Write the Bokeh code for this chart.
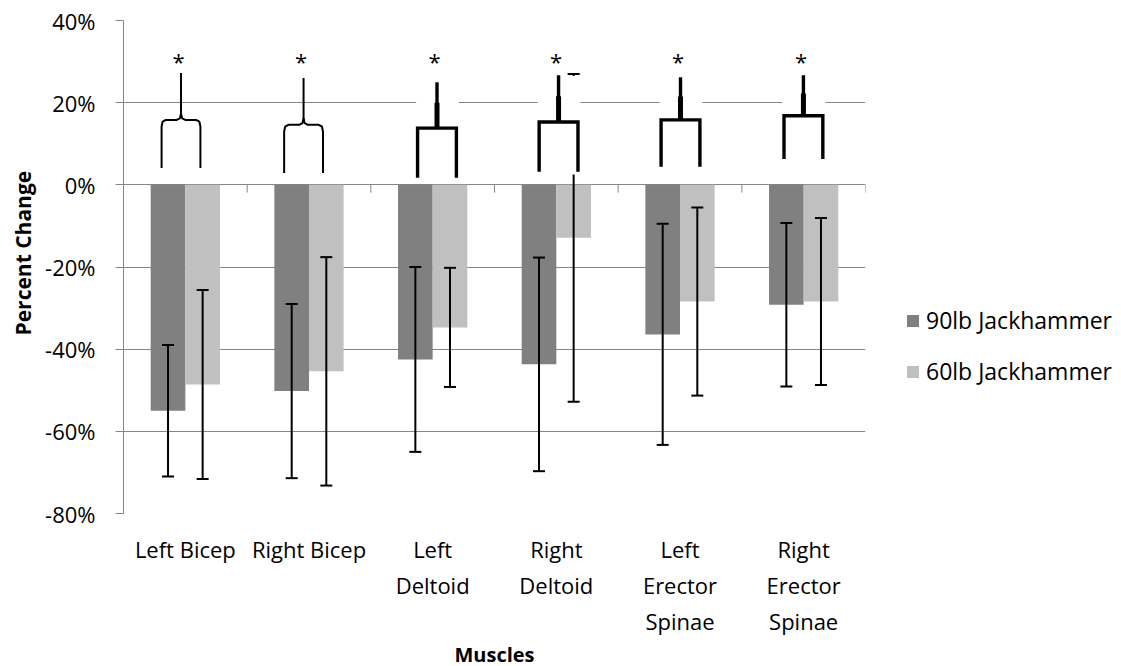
from bokeh.plotting import figure
from bokeh.models import (FactorRange, Range1d, ColumnDataSource, Legend, LegendItem,
                          FixedTicker, PrintfTickFormatter, Title)
from bokeh.transform import dodge
from bokeh.core.properties import value
from bokeh.embed import file_html
from bokeh.resources import INLINE

# ---------------- data ----------------
muscles = ["Left Bicep", "Right Bicep", "Left\nDeltoid", "Right\nDeltoid",
           "Left\nErector\nSpinae", "Right\nErector\nSpinae"]
change_90lb = [-55.0, -50.2, -42.5, -43.7, -36.4, -29.2]
change_60lb = [-48.6, -45.4, -34.7, -12.9, -28.4, -28.4]
sd_90lb = [16.0, 21.2, 22.5, 26.0, 26.9, 19.9]
sd_60lb = [23.0, 27.8, 14.5, 39.9, 22.9, 20.3]
significance = ["*", "*", "*", "*", "*", "*"]
bracket_low = [4.1, 2.9, 1.7, 3.2, 4.4, 6.3]
bracket_mid = [15.8, 14.6, 13.8, 15.3, 15.8, 16.8]
bracket_top = [27.2, 26.0, 25.0, 26.7, 26.2, 26.7]
y_ticks = [-80, -60, -40, -20, 0, 20, 40]
series_names = ["90lb Jackhammer", "60lb Jackhammer"]

# ---------------- layout / style ----------------
FONT = "Open Sans"
GRID = "#868686"
DARK = "#808080"
LIGHT = "#c0c0c0"
bracket_shift = [-0.035, -0.044, 0.035, 0.018, 0.004, -0.002]
bracket_half = 0.157
bracket_curly = [True, True, False, False, False, False]

src = ColumnDataSource(dict(
    m=muscles,
    v90=change_90lb, v60=change_60lb,
    lo90=[v - e for v, e in zip(change_90lb, sd_90lb)],
    hi90=[v + e for v, e in zip(change_90lb, sd_90lb)],
    lo60=[v - e for v, e in zip(change_60lb, sd_60lb)],
    hi60=[v + e for v, e in zip(change_60lb, sd_60lb)],
))

p = figure(x_range=FactorRange(factors=muscles, range_padding=0, factor_padding=0),
           y_range=Range1d(-80, 40),
           frame_width=742, frame_height=493,
           min_border_left=114, min_border_right=249, min_border_top=20, min_border_bottom=140,
           output_backend="svg", toolbar_location=None)
p.outline_line_color = None
p.background_fill_color = "white"

# grid
p.xgrid.grid_line_color = None
p.ygrid.grid_line_color = GRID
p.ygrid.grid_line_width = 1
p.ygrid.ticker = FixedTicker(ticks=y_ticks)

# y axis
p.yaxis.ticker = FixedTicker(ticks=y_ticks)
p.yaxis.formatter = PrintfTickFormatter(format="%d%%")
p.yaxis.axis_line_color = GRID
p.yaxis.major_tick_line_color = GRID
p.yaxis.major_tick_out = 8
p.yaxis.major_tick_in = 0
p.yaxis.minor_tick_line_color = None
p.yaxis.major_label_text_font = FONT
p.yaxis.major_label_text_font_size = "22px"
p.yaxis.major_label_text_color = "black"
p.yaxis.major_label_standoff = 20

# y axis title (as a side title so it can sit slightly above centre, like the reference)
ytitle = Title(text="Percent Change", align="left", offset=178, standoff=12,
               text_font=FONT, text_font_size="21px", text_font_style="bold",
               text_color="black")
p.add_layout(ytitle, "left")

# x axis
p.xaxis.axis_line_color = None
p.xaxis.major_tick_line_color = None
p.xaxis.minor_tick_line_color = None
p.xaxis.major_label_text_font = FONT
p.xaxis.major_label_text_font_size = "22px"
p.xaxis.major_label_text_color = "black"
p.xaxis.major_label_standoff = 14
p.xaxis.axis_label = "Muscles"
p.xaxis.axis_label_text_font = FONT
p.xaxis.axis_label_text_font_size = "20px"
p.xaxis.axis_label_text_font_style = "bold"
p.xaxis.axis_label_text_color = "black"
p.xaxis.axis_label_standoff = 2

# category axis ticks on the 0% line
p.segment(x0=dodge("m", 0.5, range=p.x_range), y0=0,
          x1=dodge("m", 0.5, range=p.x_range), y1=-1.9,
          source=src, line_color=GRID, line_width=1)

# bars
r90 = p.vbar(x=dodge("m", -0.14, range=p.x_range), top="v90", bottom=0, width=0.28,
             source=src, fill_color=DARK, line_color=None)
r60 = p.vbar(x=dodge("m", 0.14, range=p.x_range), top="v60", bottom=0, width=0.28,
             source=src, fill_color=LIGHT, line_color=None)

# error bars
for off, lo, hi in [(-0.14, "lo90", "hi90"), (0.14, "lo60", "hi60")]:
    xx = dodge("m", off, range=p.x_range)
    p.segment(x0=xx, y0=lo, x1=xx, y1=hi, source=src, line_color="black", line_width=2)
    p.scatter(x=xx, y=lo, marker="dash", size=12, source=src, line_color="black", line_width=2)
    p.scatter(x=xx, y=hi, marker="dash", size=12, source=src, line_color="black", line_width=2)

# significance brackets
idx = {m: i for i, m in enumerate(muscles)}
cx = [idx[m] + 0.5 + s for m, s in zip(muscles, bracket_shift)]
px = 1.0 / 123.67
box_l, box_r, box_b, box_t = [], [], [], []
thin_xs, thin_ys, thick_xs, thick_ys = [], [], [], []
stem_x, stem_y0, stem_y1 = [], [], []
for i in range(len(muscles)):
    c = cx[i]
    xl, xr = c - bracket_half, c + bracket_half
    lo, mid, top = bracket_low[i], bracket_mid[i], bracket_top[i]
    if bracket_curly[i]:
        rx, ry = 0.035, 1.6
        thin_xs.append([xl, xl, xl + rx * 0.25, xl + rx, c - rx, c - rx * 0.25, c, c])
        thin_ys.append([lo, mid - ry, mid - ry * 0.25, mid, mid, mid + ry * 0.25, mid + ry, top])
        thin_xs.append([xr, xr, xr - rx * 0.25, xr - rx, c + rx, c + rx * 0.25, c])
        thin_ys.append([lo, mid - ry, mid - ry * 0.25, mid, mid, mid + ry * 0.25, mid + ry])
    else:
        box_l.append(xl - 1.5 * px)
        box_r.append(xr + 2.5 * px)
        box_b.append(lo - 0.7)
        box_t.append(top - 0.2)
        thick_xs.append([xl, xl, xr, xr])
        thick_ys.append([lo, mid, mid, lo])
        thick_xs.append([c, c])
        thick_ys.append([mid, top])
        stem_x.append(c)
        stem_y0.append(mid)
        stem_y1.append(mid + (top - mid) * 0.55)

p.quad(left=box_l, right=box_r, bottom=box_b, top=box_t, fill_color="white", line_color=None)
p.multi_line(xs=thin_xs, ys=thin_ys, line_color="black", line_width=2)
p.multi_line(xs=thick_xs, ys=thick_ys, line_color="black", line_width=3.4, line_join="miter")
p.segment(x0=stem_x, y0=stem_y0, x1=stem_x, y1=stem_y1, line_color="black", line_width=5)

p.text(x=[c - 0.02 for c in cx], y=[30.2] * len(cx), text=significance,
       text_font=value(FONT), text_font_size="22px", text_align="center",
       text_baseline="alphabetic", text_color="black")

# legend
legend = Legend(items=[LegendItem(label=series_names[0], renderers=[r90]),
                       LegendItem(label=series_names[1], renderers=[r60])],
                location=(40, 126), orientation="vertical",
                padding=0, margin=0, spacing=19,
                glyph_width=15, glyph_height=15, label_standoff=6,
                label_text_font=FONT, label_text_font_size="23px", label_text_color="black",
                border_line_color=None, background_fill_alpha=0)
p.add_layout(legend, "right")

open("out.html", "w").write(file_html(p, INLINE))
